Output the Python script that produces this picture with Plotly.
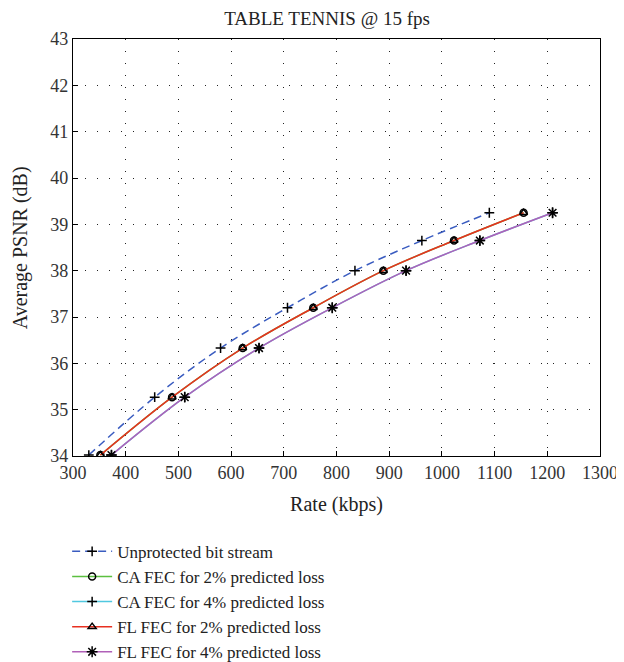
import plotly.graph_objects as go

psnr = [34.02, 35.27, 36.33, 37.2, 38.0, 38.65, 39.25]
rate_unprotected = [330, 455, 580, 707, 835, 962, 1090]
rate_ca_2 = [352, 488, 622, 756, 889, 1023, 1155]
rate_ca_4 = [373, 512, 653, 792, 932, 1072, 1210]
rate_fl_2 = [352, 488, 622, 756, 889, 1023, 1155]
rate_fl_4 = [373, 512, 653, 792, 932, 1072, 1210]

x_ticks = list(range(300, 1301, 100))
y_ticks = list(range(34, 44))

FONT = "Liberation Serif"

fig = go.Figure()

series = [
    ("Unprotected bit stream", rate_unprotected, "#3a5cc0", "8px,5px", "cross-thin-open", 7),
    ("CA FEC for 2% predicted loss", rate_ca_2, "#5cc040", "solid", "circle-open", 7),
    ("CA FEC for 4% predicted loss", rate_ca_4, "#50c8e0", "solid", "cross-thin-open", 7),
    ("FL FEC for 2% predicted loss", rate_fl_2, "#e83020", "solid", "triangle-up-open", 7),
    ("FL FEC for 4% predicted loss", rate_fl_4, "#b060b8", "solid", "asterisk-open", 9),
]

for name, xs, color, dash, sym, size in series:
    fig.add_trace(go.Scatter(
        x=xs, y=psnr, name=name, mode="lines+markers",
        line=dict(color=color, width=1.5, dash=dash, shape="spline"),
        marker=dict(symbol=sym, color="black", size=size,
                    line=dict(color="black", width=1.5)),
    ))

axis_common = dict(
    showline=True, linecolor="black", linewidth=1.2, mirror=True,
    ticks="inside", ticklen=5, tickcolor="black",
    showgrid=True, gridcolor="#222", gridwidth=1, griddash="1px,11px",
    zeroline=False,
    tickfont=dict(family=FONT, size=18, color="#333"),
    title_font=dict(family=FONT, size=20, color="#222"),
)

fig.update_xaxes(range=[300, 1300], tickvals=x_ticks, title_text="Rate (kbps)",
                 **axis_common)
fig.update_yaxes(range=[34, 43], tickvals=y_ticks, **axis_common)

# y-axis title as a rotated text label
fig.add_annotation(text="Average PSNR (dB)", xref="paper", yref="paper",
                   x=-0.099, y=0.5, xanchor="center", yanchor="middle",
                   textangle=-90, showarrow=False,
                   font=dict(family=FONT, size=20, color="#222"))

# the page adds an 8px body margin, so the figure is 8px smaller and shifted
fig.update_layout(
    width=616, height=654,
    margin=dict(l=65, r=24, t=31, b=206, autoexpand=False),
    paper_bgcolor="white", plot_bgcolor="white",
    title=dict(text="TABLE TENNIS @ 15 fps", x=0.518, xanchor="center", y=0.994,
               yanchor="top", font=dict(family=FONT, size=19, color="#222")),
    legend=dict(xref="container", yref="container", x=0.096, y=0.196,
                xanchor="left", yanchor="top",
                font=dict(family=FONT, size=17, color="#222"),
                tracegroupgap=0, itemwidth=40, bgcolor="rgba(0,0,0,0)"),
    showlegend=True,
)

fig.write_html("out.html")
